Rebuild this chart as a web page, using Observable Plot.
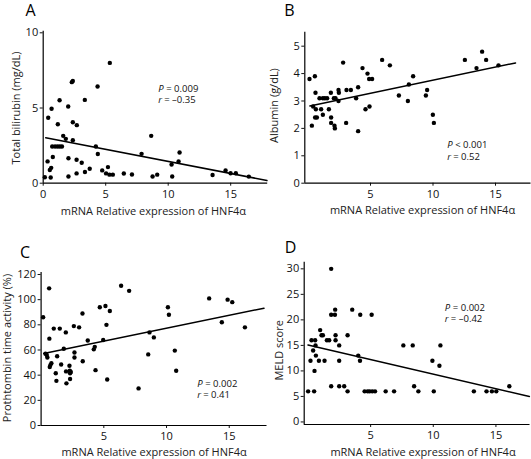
<!DOCTYPE html>
<html><head><meta charset="utf-8">
<script src="https://cdn.jsdelivr.net/npm/d3@7"></script>
<script src="https://cdn.jsdelivr.net/npm/@observablehq/plot@0.6"></script>
<style>
body{margin:0;background:#fff;}
#wrap{position:relative;width:531px;height:459px;overflow:hidden;background:#fff;}
#wrap svg{position:absolute;}
</style></head><body><div id="wrap"></div>
<script>
const xTitle = "mRNA Relative expression of HNF4α";

// Panel A: Total bilirubin
const aX = [0.13,0.35,0.4,0.53,0.6,0.64,0.67,0.72,0.77,0.95, 1.17,1.15,1.31,1.33,1.5,1.6,1.81,2.0,2.02,2.02, 2.29,2.37,2.37,2.37,2.69,2.67,2.67,3.08,3.33,3.34, 3.72,4.21,4.35,4.37,4.72,5.03,5.18,5.33,5.3,5.57, 6.45,7.1,7.87,8.64,8.75,9.12,10.27,10.32,10.83,10.91, 13.55,14.59,14.99,15.41,16.45];
const aY = [0.4,1.45,4.35,0.88,0.38,1.02,4.95,2.44,1.74,2.44, 3.92,2.44,5.52,2.44,2.44,3.15,2.95,5.1,1.66,0.45, 6.72,6.8,4.05,2.86,3.86,1.56,0.65,1.36,5.54,0.74, 0.96,2.44,6.43,1.94,0.85,0.65,1.07,8.0,0.57,0.57, 0.64,0.58,1.95,3.15,0.45,0.57,1.24,0.45,1.44,2.04, 0.55,0.84,0.66,0.66,0.44];
const aFitX = [0.2, 17.9];
const aFitY = [3.02, 0.18];
const aTicksX = [0, 5, 10, 15];
const aTicksY = [0, 5, 10];
const aStats = ["P = 0.009", "r = –0.35"];

// Panel B: Albumin
const bX = [0.12,0.31,0.41,0.55,0.6,0.57,0.63,0.71,0.92,1.05, 1.19,1.19,1.35,1.53,1.67,1.83,1.85,1.85,2.12,2.15, 2.07,2.2,2.44,2.47,2.44,2.81,3.08,3.05,3.43,3.85, 4.01,4.01,4.36,4.6,4.76,4.89,4.92,5.13,5.93,6.55, 7.27,7.99,8.07,8.41,9.43,9.53,9.99,10.07,12.55,13.48, 13.93,14.25,15.24];
const bY = [3.8,2.1,2.8,3.9,3.3,2.4,2.7,2.4,3.1,2.7, 3.1,2.5,3.1,3.1,2.7,3.3,2.4,2.2,2.1,2.0, 3.1,3.1,3.4,3.3,3.0,4.4,3.4,2.2,3.4,3.1, 3.5,1.9,4.2,2.7,4.0,3.8,2.8,3.8,4.5,4.3, 3.2,3.0,3.6,3.9,3.2,3.4,2.5,2.2,4.5,4.2, 4.8,4.5,4.3];
const bFitX = [0.15, 16.6];
const bFitY = [2.82, 4.39];
const bTicksX = [5, 10, 15];
const bTicksY = [0, 1, 2, 3, 4, 5];
const bStats = ["P < 0.001", "r = 0.52"];

// Panel C: Prothrombin time activity
const cX = [0.16,0.35,0.45,0.5,0.64,0.66,0.69,0.74,0.82,1.01, 1.17,1.22,1.28,1.49,1.6,1.81,1.97,1.99,2.02,2.26, 2.29,2.31,2.31,2.37,2.61,2.66,2.66,3.03,3.3,3.32, 3.72,4.2,4.28,4.34,4.68,4.95,5.13,5.21,5.27,5.48, 6.38,7.02,7.77,8.54,8.64,8.99,10.11,10.19,10.66,10.77, 13.4,14.41,14.87,15.24,16.25];
const cY = [86,57,56,54,109,69,46.5,48,49.5,77, 41.5,35.5,55,77,48.5,61,74,43,33.5,47.5, 43.5,41.5,37,42.5,79,58,54,78,89,51, 67.5,60.5,62.5,44,94,68,95,80,36.5,91, 111,107,29.5,56.5,74,70,94,88,59.5,43.5, 101,82,100,98,78];
const cFitX = [0.21, 17.77];
const cFitY = [57.2, 93.2];
const cTicksX = [5, 10, 15];
const cTicksY = [0, 20, 40, 60, 80, 100, 120];
const cStats = ["P = 0.002", "r = 0.41"];

// Panel D: MELD score
const dX = [0.01,0.2,0.28,0.41,0.49,0.52,0.57,0.6,0.63,0.87, 0.97,1.08,1.19,1.32,1.51,1.69,1.85,1.85,1.85,2.15, 2.17,2.2,2.2,2.49,2.49,2.49,2.89,3.16,3.16,3.53, 4.01,4.15,4.17,4.52,4.76,4.92,5.08,5.13,5.35,6.2, 6.87,7.61,8.36,8.47,8.81,9.93,10.04,10.49,10.57,13.24, 14.25,14.68,15.03,16.07];
const dY = [6,12,16,14,6,10,16,15,13,12, 18,17,17,12,16,16,30,21,7,21, 22,17,16,15,12,7,7,17,6,22, 13,12,21,6,6,6,21,6,6,6, 6,15,15,7,6,12,6,11,15,6, 6,6,6,7];
const dFitX = [0.0, 17.67];
const dFitY = [15.07, 5.0];
const dTicksX = [5, 10, 15];
const dTicksY = [0, 5, 10, 15, 20, 25, 30];
const dStats = ["P = 0.002", "r = –0.42"];

const FONT = "'Open Sans', 'DejaVu Sans', sans-serif";

function statMarks(line, dx, dy) {
  const sym = line.slice(0, 1), rest = line.slice(2);
  const gap = sym === "P" ? 8 : 6;
  const common = {frameAnchor: "top-left", textAnchor: "start", lineAnchor: "middle", fontSize: 9.5, fill: "#111", dy};
  return [
    Plot.text([sym], {...common, text: d => d, dx, fontStyle: "italic"}),
    Plot.text([rest], {...common, text: d => d, dx: dx + gap})
  ];
}

function panel(p) {
  const pts = p.xs.map((x, i) => ({x, y: p.ys[i]}));
  const fit = p.fitX.map((x, i) => ({x, y: p.fitY[i]}));
  const ml = p.fl - p.left, mr = p.left + p.w - p.fr, mt = p.ft - p.top, mb = p.top + p.h - p.fb;
  const svg = Plot.plot({
    width: p.w, height: p.h,
    marginLeft: ml, marginRight: mr, marginTop: mt, marginBottom: mb,
    style: {fontFamily: FONT, fontSize: "11px", color: "#111", background: "transparent", overflow: "visible"},
    x: {domain: p.xDom},
    y: {domain: p.yDom},
    marks: [
      Plot.axisX({ticks: p.xTicks, tickSize: 3, tickPadding: 4, label: null, tickFormat: d => String(d)}),
      Plot.axisY({ticks: p.yTicks, tickSize: 3, tickPadding: 2, label: null, tickFormat: d => String(d)}),
      Plot.ruleX([p.xDom[0]], {stroke: "#000", strokeWidth: 1.2}),
      Plot.ruleY([p.yDom[0]], {stroke: "#000", strokeWidth: 1.2}),
      Plot.line(fit, {x: "x", y: "y", stroke: "#000", strokeWidth: 1.5}),
      Plot.dot(pts, {x: "x", y: "y", r: 2.2, fill: "#000", stroke: "none"}),
      Plot.text([p.letter], {text: d => d, frameAnchor: "top-left", textAnchor: "start", lineAnchor: "middle", fontSize: 16, dx: p.letterD[0], dy: p.letterD[1], fill: "#000"}),
      Plot.text([xTitle], {text: d => d, frameAnchor: "bottom", textAnchor: "middle", lineAnchor: "middle", fontSize: 11, dx: p.xLab[0], dy: p.xLab[1], fill: "#222"}),
      Plot.text([p.yTitle], {text: d => d, frameAnchor: "left", textAnchor: "middle", lineAnchor: "middle", rotate: -90, fontSize: 11, dx: p.yLab[0], dy: p.yLab[1], fill: "#222"}),
      ...statMarks(p.stats[0], p.statD[0], p.statD[1]),
      ...statMarks(p.stats[1], p.statD[0], p.statD[2])
    ]
  });
  svg.style.left = p.left + "px";
  svg.style.top = p.top + "px";
  document.getElementById("wrap").appendChild(svg);
}

panel({left: 0, top: 0, w: 268, h: 226, fl: 42.7, fr: 267.2, ft: 30.8, fb: 182.7,
  xDom: [0, 17.96], yDom: [0, 10.1], xTicks: aTicksX, yTicks: aTicksY,
  xs: aX, ys: aY, fitX: aFitX, fitY: aFitY, letter: "A", letterD: [-17.7, -20.9],
  yTitle: "Total bilirubin (mg/dL)", xLab: [-2, 27.8], yLab: [-26.7, 0.75],
  stats: aStats, statD: [115, 57.9, 68.2]});

panel({left: 265, top: 0, w: 266, h: 226, fl: 304.3, fr: 530.5, ft: 31.7, fb: 182.7,
  xDom: [-0.256, 17.84], yDom: [0, 5.51], xTicks: bTicksX, yTicks: bTicksY,
  xs: bX, ys: bY, fitX: bFitX, fitY: bFitY, letter: "B", letterD: [-20.5, -21.8],
  yTitle: "Albumin (g/dL)", xLab: [4.6, 26.8], yLab: [-30.8, -2.2],
  stats: bStats, statD: [142.4, 113, 124.3]});

panel({left: 0, top: 225, w: 268, h: 234, fl: 40.6, fr: 266.5, ft: 272.1, fb: 425,
  xDom: [0, 18.01], yDom: [0, 121.5], xTicks: cTicksX, yTicks: cTicksY,
  xs: cX, ys: cY, fitX: cFitX, fitY: cFitY, letter: "C", letterD: [-21, -19.9],
  yTitle: "Prothtombin time activity (%)", xLab: [0, 26.5], yLab: [-33.4, -1],
  stats: cStats, statD: [156.1, 110.9, 122.6]});

panel({left: 265, top: 225, w: 266, h: 234, fl: 303.7, fr: 529.5, ft: 261.7, fb: 424,
  xDom: [-0.303, 17.72], yDom: [-0.5, 31.3], xTicks: dTicksX, yTicks: dTicksY,
  xs: dX, ys: dY, fitX: dFitX, fitY: dFitY, letter: "D", letterD: [-19.4, -14.1],
  yTitle: "MELD score", xLab: [5.9, 27.5], yLab: [-24.9, 7],
  stats: dStats, statD: [140.6, 46, 57]});
</script>
</body></html>
